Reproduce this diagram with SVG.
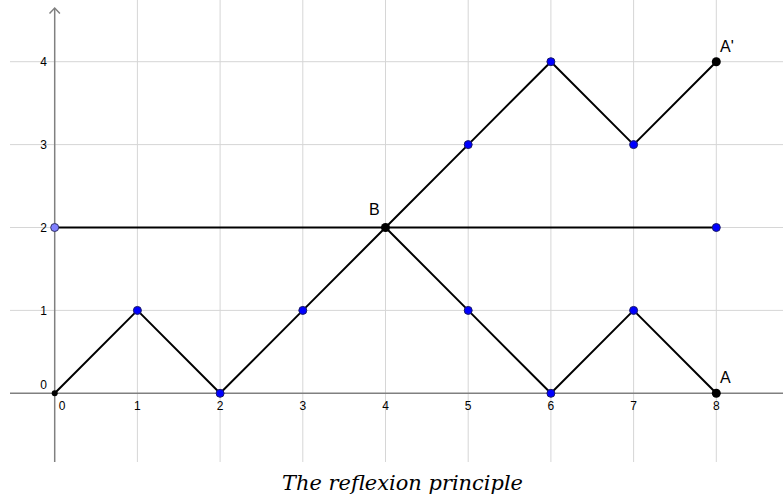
<svg xmlns="http://www.w3.org/2000/svg" width="783" height="499" viewBox="0 0 783 499">
<style>
.grid{stroke:#d6d6d6;stroke-width:1}
.axis{stroke:#808080;stroke-width:1.5;fill:none}
.path{stroke:#000;stroke-width:2;fill:none;stroke-linejoin:round}
.tick{font-family:"Liberation Sans",Arial,sans-serif;font-size:12px;fill:#000}
.lbl{font-family:"Liberation Sans",Arial,sans-serif;font-size:16px;fill:#000}
.blue{fill:#0000ff;stroke:#1a1a66;stroke-width:1}
.lblue{fill:#7f7fff;stroke:#333366;stroke-width:1}
.blk{fill:#000}
</style>
<rect width="783" height="499" fill="#fff"/>
<g id="grid">
<line class="grid" x1="137.4" y1="0" x2="137.4" y2="462"/>
<line class="grid" x1="220.1" y1="0" x2="220.1" y2="462"/>
<line class="grid" x1="302.8" y1="0" x2="302.8" y2="462"/>
<line class="grid" x1="385.5" y1="0" x2="385.5" y2="462"/>
<line class="grid" x1="468.2" y1="0" x2="468.2" y2="462"/>
<line class="grid" x1="550.9" y1="0" x2="550.9" y2="462"/>
<line class="grid" x1="633.6" y1="0" x2="633.6" y2="462"/>
<line class="grid" x1="716.3" y1="0" x2="716.3" y2="462"/>
<line class="grid" x1="10" y1="310.4" x2="783" y2="310.4"/>
<line class="grid" x1="10" y1="227.5" x2="783" y2="227.5"/>
<line class="grid" x1="10" y1="144.6" x2="783" y2="144.6"/>
<line class="grid" x1="10" y1="61.7" x2="783" y2="61.7"/>
</g>
<g id="axes">
<line class="axis" x1="10" y1="393.3" x2="783" y2="393.3"/>
<line class="axis" x1="54.7" y1="8" x2="54.7" y2="462"/>
<polyline class="axis" points="49.5,13.5 54.7,8 59.9,13.5"/>
</g>
<g id="ticks">
<text class="tick" x="62" y="410" text-anchor="middle">0</text>
<text class="tick" x="137.4" y="410" text-anchor="middle">1</text>
<text class="tick" x="220.1" y="410" text-anchor="middle">2</text>
<text class="tick" x="302.8" y="410" text-anchor="middle">3</text>
<text class="tick" x="385.5" y="410" text-anchor="middle">4</text>
<text class="tick" x="468.2" y="410" text-anchor="middle">5</text>
<text class="tick" x="550.9" y="410" text-anchor="middle">6</text>
<text class="tick" x="633.6" y="410" text-anchor="middle">7</text>
<text class="tick" x="716.3" y="410" text-anchor="middle">8</text>
<text class="tick" x="47" y="389" text-anchor="end">0</text>
<text class="tick" x="47" y="314.5" text-anchor="end">1</text>
<text class="tick" x="47" y="231.5" text-anchor="end">2</text>
<text class="tick" x="47" y="148.5" text-anchor="end">3</text>
<text class="tick" x="47" y="66" text-anchor="end">4</text>
</g>
<g id="connectors">
<polyline class="path" points="54.7,393.3 137.4,310.4 220.1,393.3 302.8,310.4 385.5,227.5 468.2,310.4 550.9,393.3 633.6,310.4 716.3,393.3"/>
<polyline class="path" points="385.5,227.5 468.2,144.6 550.9,61.7 633.6,144.6 716.3,61.7"/>
<line class="path" x1="54.7" y1="227.5" x2="716.3" y2="227.5"/>
</g>
<g id="points">
<circle class="blk" cx="54.7" cy="393.3" r="3"/>
<circle class="blue" cx="137.4" cy="310.4" r="4"/>
<circle class="blue" cx="220.1" cy="393.3" r="4"/>
<circle class="blue" cx="302.8" cy="310.4" r="4"/>
<circle class="blue" cx="468.2" cy="310.4" r="4"/>
<circle class="blue" cx="550.9" cy="393.3" r="4"/>
<circle class="blue" cx="633.6" cy="310.4" r="4"/>
<circle class="blue" cx="468.2" cy="144.6" r="4"/>
<circle class="blue" cx="550.9" cy="61.7" r="4"/>
<circle class="blue" cx="633.6" cy="144.6" r="4"/>
<circle class="blue" cx="716.3" cy="227.5" r="4"/>
<circle class="lblue" cx="54.7" cy="227.5" r="4"/>
</g>
<g id="node-B">
<circle class="blk" cx="385.5" cy="227.5" r="4.5"/>
<text class="lbl" x="369" y="215">B</text>
</g>
<g id="node-A">
<circle class="blk" cx="716.3" cy="393.3" r="4.5"/>
<text class="lbl" x="720" y="383">A</text>
</g>
<g id="node-Aprime">
<circle class="blk" cx="716.3" cy="61.7" r="4.5"/>
<text class="lbl" x="720" y="52">A'</text>
</g>
<text x="282" y="490" textLength="241" lengthAdjust="spacingAndGlyphs" font-family="'DejaVu Serif','Liberation Serif',serif" font-style="italic" font-size="20">The reflexion principle</text>
</svg>
